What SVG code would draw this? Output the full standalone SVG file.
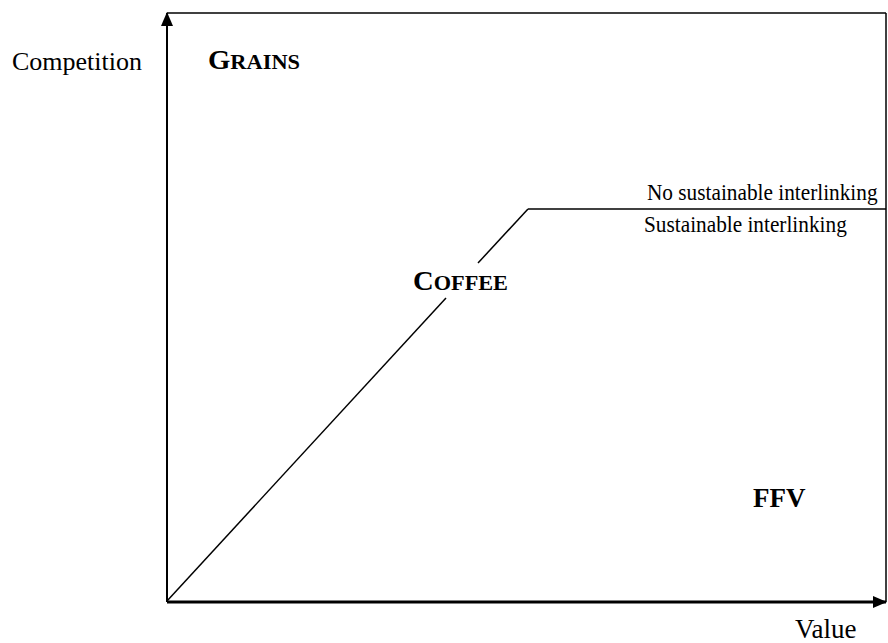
<svg xmlns="http://www.w3.org/2000/svg" width="888" height="643" viewBox="0 0 888 643">
<style>
text{font-family:'Liberation Serif','Times New Roman',serif;fill:#000}
.b{font-weight:bold}
.ln{stroke:#000;fill:none}
</style>
<defs>
<marker id="ah2" markerWidth="14" markerHeight="12" refX="13" refY="6" orient="auto" markerUnits="userSpaceOnUse">
<path d="M0,0 L14,6 L0,12 Z" fill="#000"/>
</marker>
</defs>
<rect width="888" height="643" fill="#fff"/>
<g id="connectors">
<line class="ln" x1="167" y1="602" x2="167" y2="13" stroke-width="2" marker-end="url(#ah2)"/>
<line class="ln" x1="167" y1="602" x2="886" y2="602" stroke-width="3" marker-end="url(#ah2)"/>
<line class="ln" x1="167" y1="13" x2="886" y2="13" stroke-width="1.5"/>
<line class="ln" x1="886" y1="13" x2="886" y2="602" stroke-width="1.5"/>
<line class="ln" x1="167" y1="601" x2="446" y2="298" stroke-width="1.5"/>
<line class="ln" x1="478" y1="263" x2="528" y2="209" stroke-width="1.5"/>
<line class="ln" x1="528" y1="209" x2="886" y2="209" stroke-width="1.5"/>
</g>
<g id="axis-y-label"><text x="12" y="70" font-size="26">Competition</text></g>
<g id="axis-x-label"><text x="795" y="638" font-size="27">Value</text></g>
<g id="grains"><text class="b" x="208" y="69" font-size="27" textLength="92" lengthAdjust="spacingAndGlyphs">G<tspan font-size="21">RAINS</tspan></text></g>
<g id="coffee"><text class="b" x="413" y="290" font-size="27" textLength="95" lengthAdjust="spacingAndGlyphs">C<tspan font-size="21">OFFEE</tspan></text></g>
<g id="ffv"><text class="b" x="753" y="507" font-size="27">FFV</text></g>
<g id="no-sustainable" transform="translate(647,200) scale(1,1.1)"><text x="0" y="0" font-size="21.3">No sustainable interlinking</text></g>
<g id="sustainable" transform="translate(644,232) scale(1,1.1)"><text x="0" y="0" font-size="21.3">Sustainable interlinking</text></g>
</svg>
